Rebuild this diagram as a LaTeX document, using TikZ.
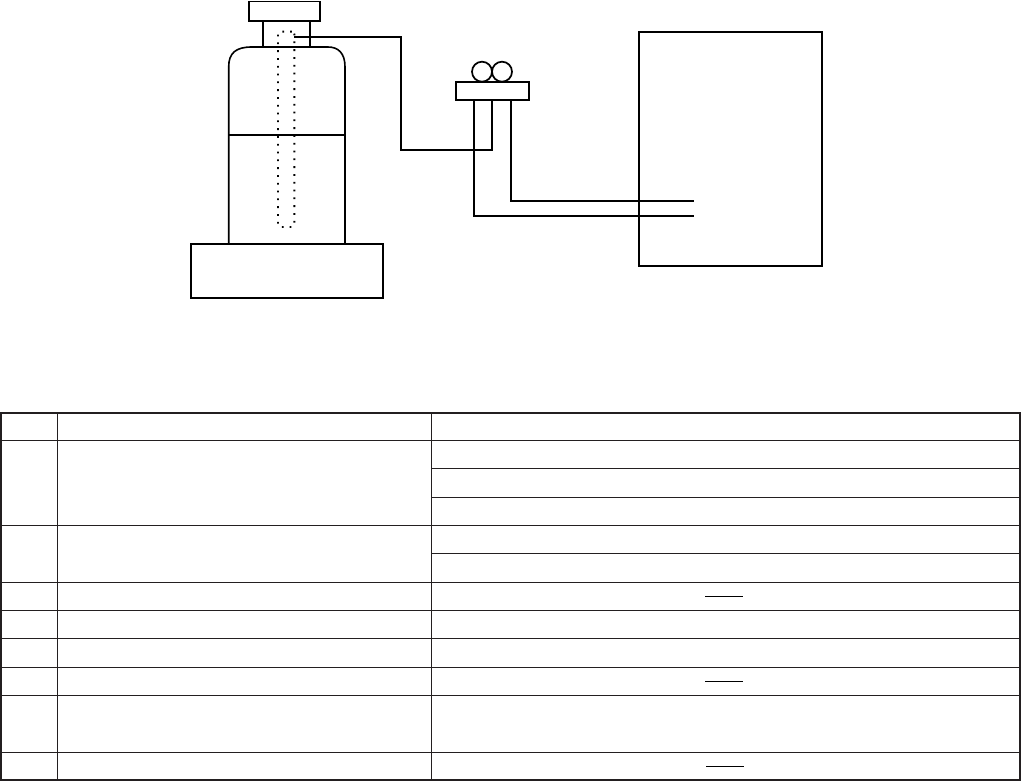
\documentclass[tikz,border=0pt]{standalone}
\usepackage{xcolor}
\usetikzlibrary{positioning}

\definecolor{inkdark}{HTML}{231F20}

\tikzset{
    part/.style={draw=black,line width=1.7pt,inner sep=0pt,outer sep=0pt},
    pipe/.style={draw=black,line width=1.6pt,line join=miter},
    rulethin/.style={draw=inkdark,line width=0.9pt},
    rulethick/.style={draw=inkdark,line width=2pt},
}

\begin{document}
\begin{tikzpicture}[x=1pt,y=-1pt]
    \useasboundingbox (0,0) rectangle (1021,781);

    % bottle on its stand
    \node[part,minimum width=192.5pt,minimum height=54pt] (stand) at (287,271) {};
    \node[part,minimum width=71.5pt,minimum height=19.5pt] (cap) at (284.5,11.2) {};
    \node[part,minimum width=47pt,minimum height=26pt] (neck) at (286.2,34) {};
    \coordinate (bodyl) at (228.7,244);
    \coordinate (bodyr) at (345,244);
    \draw[pipe] (bodyl) -- (228.7,66.7) .. controls (228.7,53) and (236,47) .. (251.7,47)
        -- (328,47) .. controls (338,47) and (345,53) .. (345,66.7) -- (bodyr);
    \draw[pipe] (228.7,135) -- (345,135); % liquid level
    \node[draw=black,line width=1.8pt,dash pattern=on 1.8pt off 6pt,rounded corners=2.5pt,
        minimum width=16.3pt,minimum height=195.3pt,inner sep=0pt,outer sep=0pt] (tube) at (286.2,129.3) {};

    % manifold with gauges
    \node[part,minimum width=73.6pt,minimum height=18.3pt] (manifold) at (492.5,91.2) {};
    \node[part,circle,minimum size=20pt] (gaugel) at (482,71.7) {};
    \node[part,circle,minimum size=20pt] (gauger) at (502,71.7) {};

    % unit
    \node[part,minimum width=183pt,minimum height=234pt] (unit) at (730.5,149) {};
    \coordinate (unitl) at (694,216);
    \coordinate (unitr) at (694,201.3);
    \coordinate (tubeout) at (294.3,37);

    % hoses
    \draw[pipe] (tubeout) -- (401,37) -- (401,150.3) -- (492,150.3) -- (492,0 |- manifold.south);
    \draw[pipe] (474,0 |- manifold.south) -- (474,216) -- (unitl);
    \draw[pipe] (510.7,0 |- manifold.south) -- (510.7,201.3) -- (unitr);

    % table
    \node[rulethick,rectangle,minimum width=1019pt,minimum height=367pt,inner sep=0pt,outer sep=0pt] (tbl) at (510.5,596.2) {};
    \foreach \y in {440.3,525.3,582.3,610.3,638.3,667.3,695.3,752.3}
        \draw[rulethin] (tbl.west |- 0,\y) -- (tbl.east |- 0,\y);
    \foreach \y in {468.3,497.3,553.3}
        \draw[rulethin] (431.3,\y) -- (tbl.east |- 0,\y);
    \foreach \x in {57.3,431.3}
        \draw[rulethin] (\x,0 |- tbl.north) -- (\x,0 |- tbl.south);

    % blanks
    \foreach \xa/\xb/\y in {705/742.7/596,705/742.7/681,706/743.7/766.7}
        \draw[draw=black,line width=0.8pt] (\xa,\y) -- (\xb,\y);
\end{tikzpicture}
\end{document}
